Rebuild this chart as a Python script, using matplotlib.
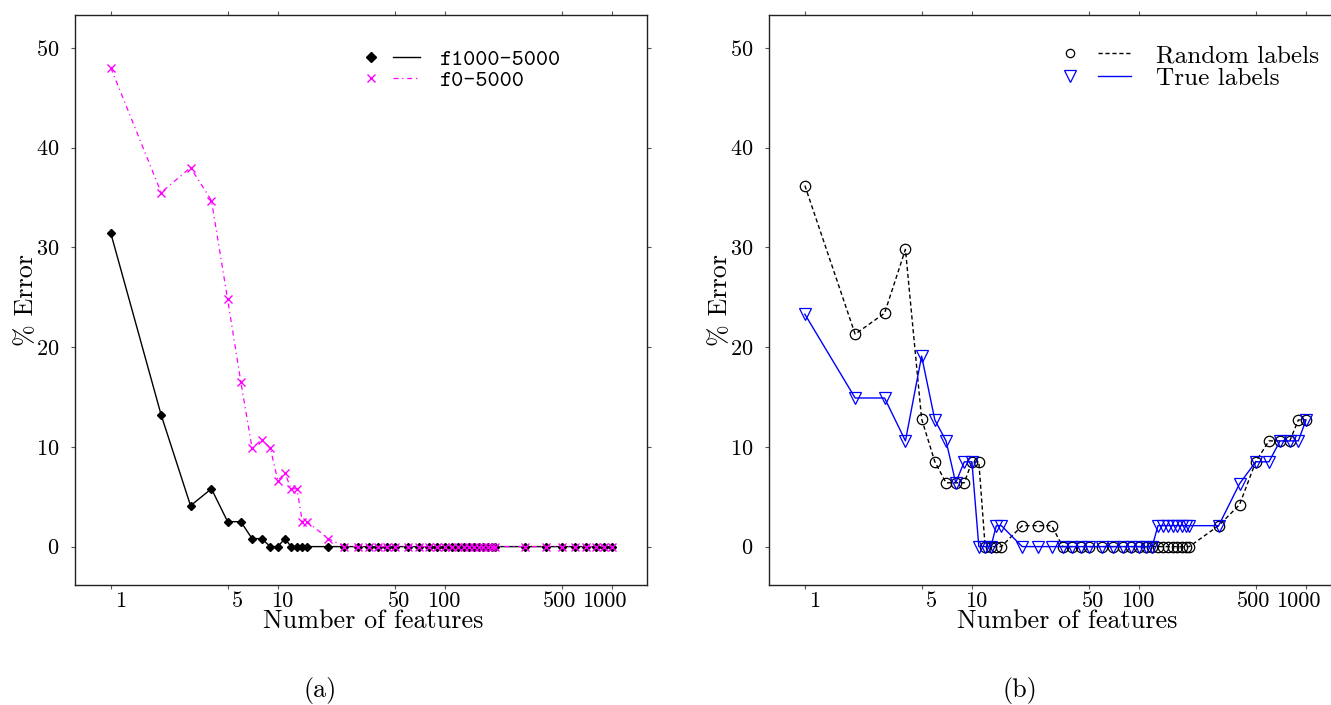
import matplotlib
matplotlib.use('Agg')
import matplotlib.pyplot as plt
from matplotlib.lines import Line2D
from matplotlib.legend_handler import HandlerTuple
from matplotlib.ticker import FixedLocator, FixedFormatter, NullLocator
from matplotlib.transforms import ScaledTranslation

plt.rcParams['axes.formatter.use_mathtext'] = True

# number of features used at each point
features = [1, 2, 3, 4, 5, 6, 7, 8, 9, 10, 11, 12, 13, 14, 15,
            20, 25, 30, 35, 40, 45, 50,
            60, 70, 80, 90, 100, 110, 120, 130, 140, 150, 160, 170, 180, 190, 200,
            300, 400, 500, 600, 700, 800, 900, 1000]

# (a) % error
err_f1000 = [31.4, 13.2, 4.1, 5.8, 2.5, 2.5, 0.8, 0.8, 0.0, 0.0, 0.8, 0.0, 0.0, 0.0, 0.0,
             0.0, 0.0, 0.0, 0.0, 0.0, 0.0, 0.0,
             0.0, 0.0, 0.0, 0.0, 0.0, 0.0, 0.0, 0.0, 0.0, 0.0, 0.0, 0.0, 0.0, 0.0, 0.0,
             0.0, 0.0, 0.0, 0.0, 0.0, 0.0, 0.0, 0.0]
err_f0 = [48.0, 35.5, 38.0, 34.7, 24.8, 16.5, 9.9, 10.7, 9.9, 6.6, 7.4, 5.8, 5.8, 2.5, 2.5,
          0.8, 0.0, 0.0, 0.0, 0.0, 0.0, 0.0,
          0.0, 0.0, 0.0, 0.0, 0.0, 0.0, 0.0, 0.0, 0.0, 0.0, 0.0, 0.0, 0.0, 0.0, 0.0,
          0.0, 0.0, 0.0, 0.0, 0.0, 0.0, 0.0, 0.0]

# (b) % error
err_random = [36.2, 21.3, 23.4, 29.8, 12.8, 8.5, 6.4, 6.4, 6.4, 8.5, 8.5, 0.0, 0.0, 0.0, 0.0,
              2.1, 2.1, 2.1, 0.0, 0.0, 0.0, 0.0,
              0.0, 0.0, 0.0, 0.0, 0.0, 0.0, 0.0, 0.0, 0.0, 0.0, 0.0, 0.0, 0.0, 0.0, 0.0,
              2.1, 4.2, 8.5, 10.6, 10.6, 10.6, 12.7, 12.7]
err_true = [23.3, 14.9, 14.9, 10.6, 19.1, 12.7, 10.6, 6.4, 8.5, 8.5, 0.0, 0.0, 0.0, 2.1, 2.1,
            0.0, 0.0, 0.0, 0.0, 0.0, 0.0, 0.0,
            0.0, 0.0, 0.0, 0.0, 0.0, 0.0, 0.0, 2.1, 2.1, 2.1, 2.1, 2.1, 2.1, 2.1, 2.1,
            2.1, 6.3, 8.5, 8.5, 10.6, 10.6, 10.6, 12.7]

xticks = [1, 5, 10, 50, 100, 500, 1000]
xticklabels = ['1', '5', '10', '50', '100', '500', '1000']
yticks = [0, 10, 20, 30, 40, 50]

RM = 'cmr10'
TT = 'cmtt10'
DASHDOT = (4, 3, 1, 3)

fig = plt.figure(figsize=(13.31, 7.05), dpi=100)


def style_axes(ax):
    ax.set_xscale('log')
    ax.set_xlim(0.61, 1620)
    ax.set_ylim(-3.85, 53.3)
    ax.xaxis.set_major_locator(FixedLocator(xticks))
    ax.xaxis.set_major_formatter(FixedFormatter(xticklabels))
    ax.xaxis.set_minor_locator(NullLocator())
    ax.set_yticks(yticks)
    ax.tick_params(axis='both', direction='out', length=3, width=0.8,
                   color='#555555', top=True, right=True, labelsize=16)
    ax.tick_params(axis='x', pad=2)
    ax.tick_params(axis='y', pad=8)
    # x tick labels sit right-justified a little past their ticks
    shift = ScaledTranslation(15 / 100, 0, fig.dpi_scale_trans)
    for lab in ax.get_xticklabels():
        lab.set_family(RM)
        lab.set_ha('right')
        lab.set_transform(lab.get_transform() + shift)
    for lab in ax.get_yticklabels():
        lab.set_family(RM)
    for s in ax.spines.values():
        s.set_linewidth(1.0)
        s.set_color('#222222')
    ax.set_xlabel('Number of features', family=RM, fontsize=18.8)
    ax.xaxis.set_label_coords(0.521, -0.043)
    ax.set_ylabel('% Error', family=RM, fontsize=18.8, labelpad=-1.5)


ax1 = fig.add_axes([75 / 1331, 120 / 705, 572 / 1331, 570 / 705])
ax2 = fig.add_axes([769 / 1331, 120 / 705, 572 / 1331, 570 / 705])

# (a)
ax1.plot(features, err_f1000, color='black', lw=1.0, marker='D', ms=4.5)
ax1.plot(features, err_f0, color='#ff00ff', lw=0.9, ls='-.', dashes=DASHDOT,
         marker='x', ms=5.5, mew=1.0)
style_axes(ax1)
h1 = (Line2D([], [], color='black', ls='none', marker='D', ms=5),
      Line2D([], [], color='black', lw=1.0))
h2 = (Line2D([], [], color='#ff00ff', ls='none', marker='x', ms=5.5, mew=1.0),
      Line2D([], [], color='#ff00ff', lw=0.9, ls='-.', dashes=DASHDOT))
ax1.legend([h1, h2], ['f1000-5000', 'f0-5000'],
           handler_map={tuple: HandlerTuple(ndivide=None, pad=0.4)},
           loc='upper left', bbox_to_anchor=(0.493, 0.941), frameon=False,
           borderpad=0, borderaxespad=0, labelspacing=0.0,
           handlelength=2.75, handletextpad=0.82,
           prop={'family': TT, 'size': 16.6})

# (b)
ax2.plot(features, err_random, color='black', lw=1.0, ls='--', marker='o', ms=7.5,
         mfc='none', mew=0.9, dashes=(3, 2))
ax2.plot(features, err_true, color='#0000ff', lw=1.0, marker='v', ms=9,
         mfc='none', mew=0.9)
style_axes(ax2)
h3 = (Line2D([], [], color='black', ls='none', marker='o', ms=6, mfc='none', mew=0.9),
      Line2D([], [], color='black', lw=1.0, ls='--', dashes=(3, 2)))
h4 = (Line2D([], [], color='#0000ff', ls='none', marker='v', ms=8, mfc='none', mew=0.9),
      Line2D([], [], color='#0000ff', lw=1.0))
ax2.legend([h3, h4], ['Random labels', 'True labels'],
           handler_map={tuple: HandlerTuple(ndivide=None, pad=0.48)},
           loc='upper left', bbox_to_anchor=(0.498, 0.948), frameon=False,
           borderpad=0, borderaxespad=0, labelspacing=0.0,
           handlelength=3.04, handletextpad=1.0,
           prop={'family': RM, 'size': 18.2})

fig.text(320 / 1331, 1 - 690 / 705, '(a)', family=RM, fontsize=18.8, ha='center', va='center')
fig.text(1020 / 1331, 1 - 690 / 705, '(b)', family=RM, fontsize=18.8, ha='center', va='center')

fig.savefig('out.png', dpi=100)
